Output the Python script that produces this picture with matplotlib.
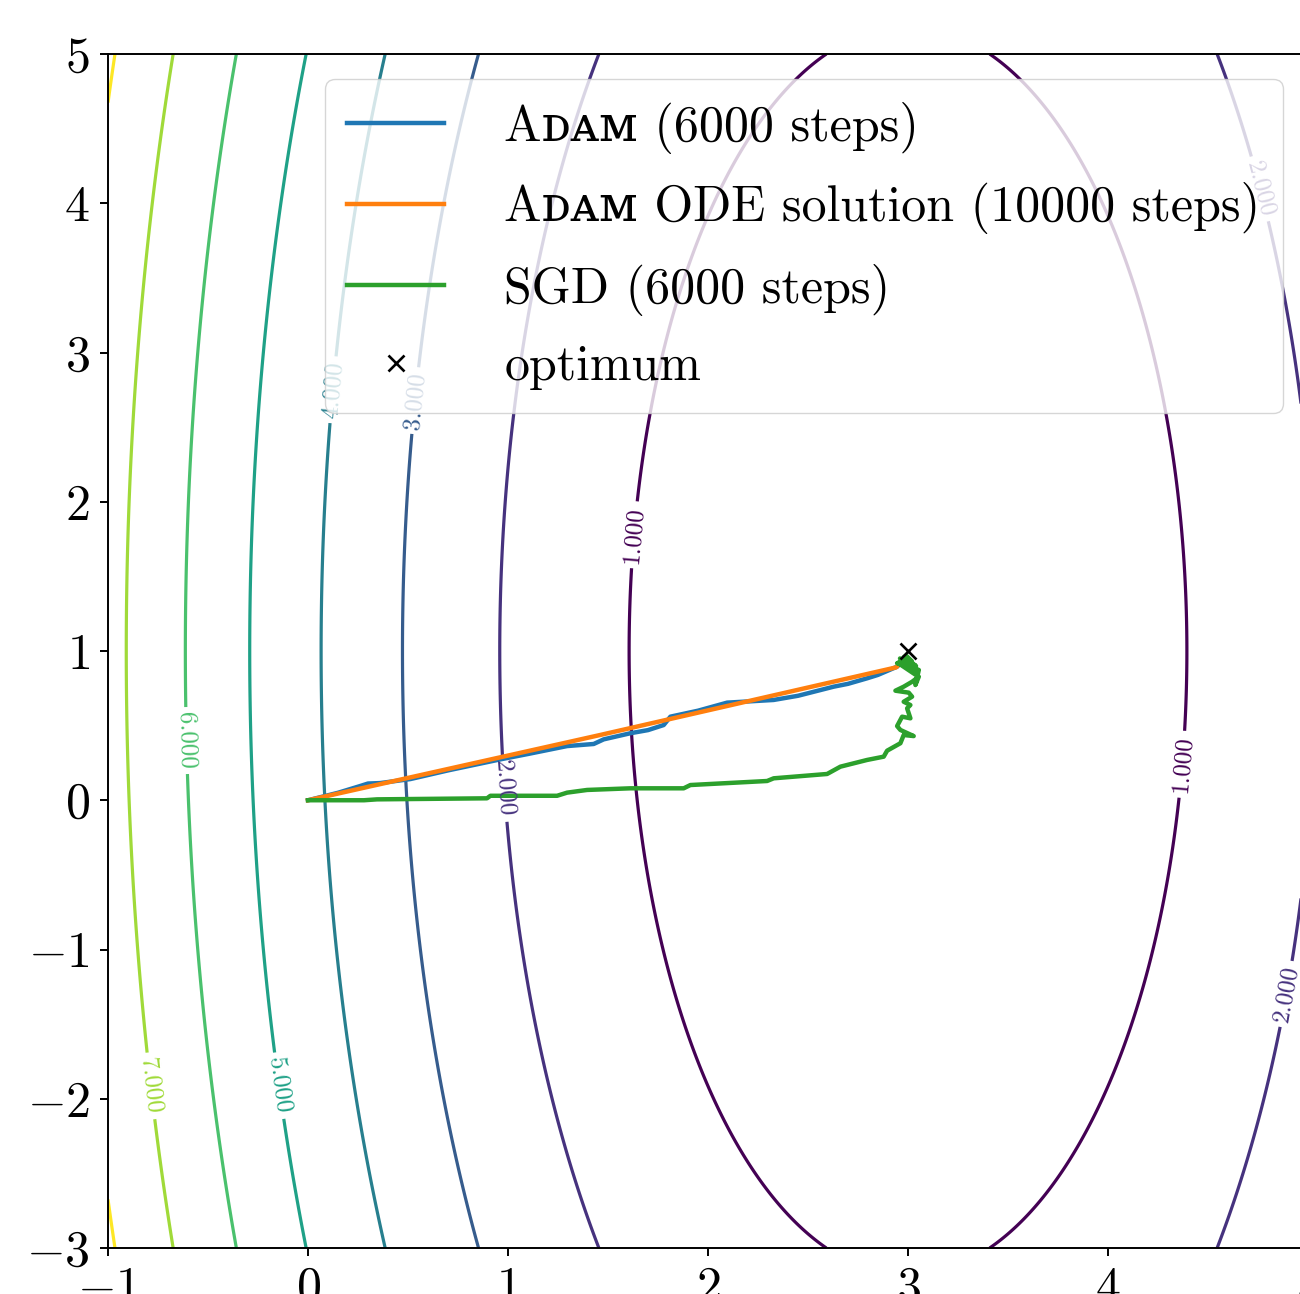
import numpy as np
import matplotlib
matplotlib.use('Agg')
import matplotlib.pyplot as plt

plt.rcParams['font.family'] = ['cmr10', 'DejaVu Serif']
plt.rcParams['mathtext.fontset'] = 'cm'
plt.rcParams['axes.formatter.use_mathtext'] = True
plt.rcParams['axes.linewidth'] = 1.4

# loss surface: f = cx*(x-3)^2 + cy*(y-1)^2 + c0
opt_x, opt_y = 3.0, 1.0
coef_x, coef_y, offset = 0.45, 0.05, 0.125
levels = [1, 2, 3, 4, 5, 6, 7, 8]

# where the contour labels sit (data coords)
label_pos = [(1.62, 1.78), (4.38, 0.24), (0.99, 0.08), (4.90, -1.30), (4.77, 4.10),
             (0.52, 2.68), (0.13, 2.75), (-0.13, -1.91), (-0.61, 0.40), (-0.76, -1.91)]

# Adam (6000 steps)
adam_x = [0.0, 0.15, 0.26, 0.30, 0.36, 0.512, 0.70, 0.962, 1.10, 1.2955, 1.4285,
          1.4785, 1.612, 1.70, 1.7785, 1.812, 1.95, 2.0955, 2.20, 2.3285, 2.45,
          2.6285, 2.70, 2.7955, 2.85, 2.9455, 2.977]
adam_y = [0.0, 0.05, 0.095, 0.112, 0.115, 0.142, 0.20, 0.274, 0.31, 0.363, 0.377,
          0.408, 0.449, 0.47, 0.504, 0.560, 0.60, 0.654, 0.662, 0.672, 0.70,
          0.761, 0.78, 0.817, 0.84, 0.895, 0.94]

# Adam ODE solution (10000 steps)
ode_x = [0.0, 1.46, 2.94, 2.99]
ode_y = [0.0, 0.437, 0.89, 0.95]

# SGD (6000 steps)
sgd_x = [0.0, 0.28, 0.345, 0.895, 0.912, 1.2455, 1.2955, 1.3955, 1.612, 1.8785,
         1.912, 2.2955, 2.3285, 2.5955, 2.662, 2.7955, 2.8785, 2.8955, 2.962, 2.9785,
         3.0285, 2.962, 2.9455, 2.9705, 3.012, 2.9955, 3.012, 2.9785, 3.0205, 3.0035,
         2.937, 2.9785, 3.0205, 3.054, 3.037, 3.054, 2.9455, 2.987, 3.05, 2.95, 3.05,
         2.96, 3.04, 2.98, 3.02, 2.99]
sgd_y = [0.0, 0.0, 0.006, 0.013, 0.030, 0.030, 0.051, 0.069, 0.080, 0.080,
         0.102, 0.129, 0.147, 0.176, 0.225, 0.270, 0.292, 0.332, 0.382, 0.437,
         0.430, 0.471, 0.497, 0.560, 0.549, 0.616, 0.638, 0.660, 0.694, 0.721,
         0.734, 0.761, 0.794, 0.828, 0.772, 0.873, 0.918, 0.940, 0.87, 0.92, 0.83,
         0.95, 0.90, 0.96, 0.93, 0.97]

fig = plt.figure(figsize=(13, 12.94), dpi=100)
ax = fig.add_axes([108 / 1300, 46 / 1294, 1200 / 1300, 1194 / 1294])

xx, yy = np.meshgrid(np.linspace(-1, 5, 700), np.linspace(-3, 5, 900))
zz = coef_x * (xx - opt_x) ** 2 + coef_y * (yy - opt_y) ** 2 + offset
cs = ax.contour(xx, yy, zz, levels=levels, cmap='viridis', linewidths=2.3)
ax.clabel(cs, fmt='%1.3f', fontsize=18, manual=label_pos, inline=True)

ax.plot(adam_x, adam_y, color='tab:blue', lw=3.2, label=r'Aᴅᴀᴍ (6000 steps)')
ax.plot(ode_x, ode_y, color='tab:orange', lw=3.2, label=r'Aᴅᴀᴍ ODE solution (10000 steps)')
ax.plot(sgd_x, sgd_y, color='tab:green', lw=3.2, label='SGD (6000 steps)')
ax.plot(opt_x, opt_y, 'kx', ms=12, mew=1.9, label='optimum')

ax.set_xlim(-1, 5)
ax.set_ylim(-3, 5)
ax.set_xticks(range(-1, 6))
ax.set_yticks(range(-3, 6))
ax.tick_params(labelsize=36, length=6, width=1.4, pad=7)

ax.legend(loc='upper right', fontsize=36, handlelength=1.94, handletextpad=1.2,
          labelspacing=0.58, borderpad=0.45)

fig.savefig('out.png', dpi=100)
